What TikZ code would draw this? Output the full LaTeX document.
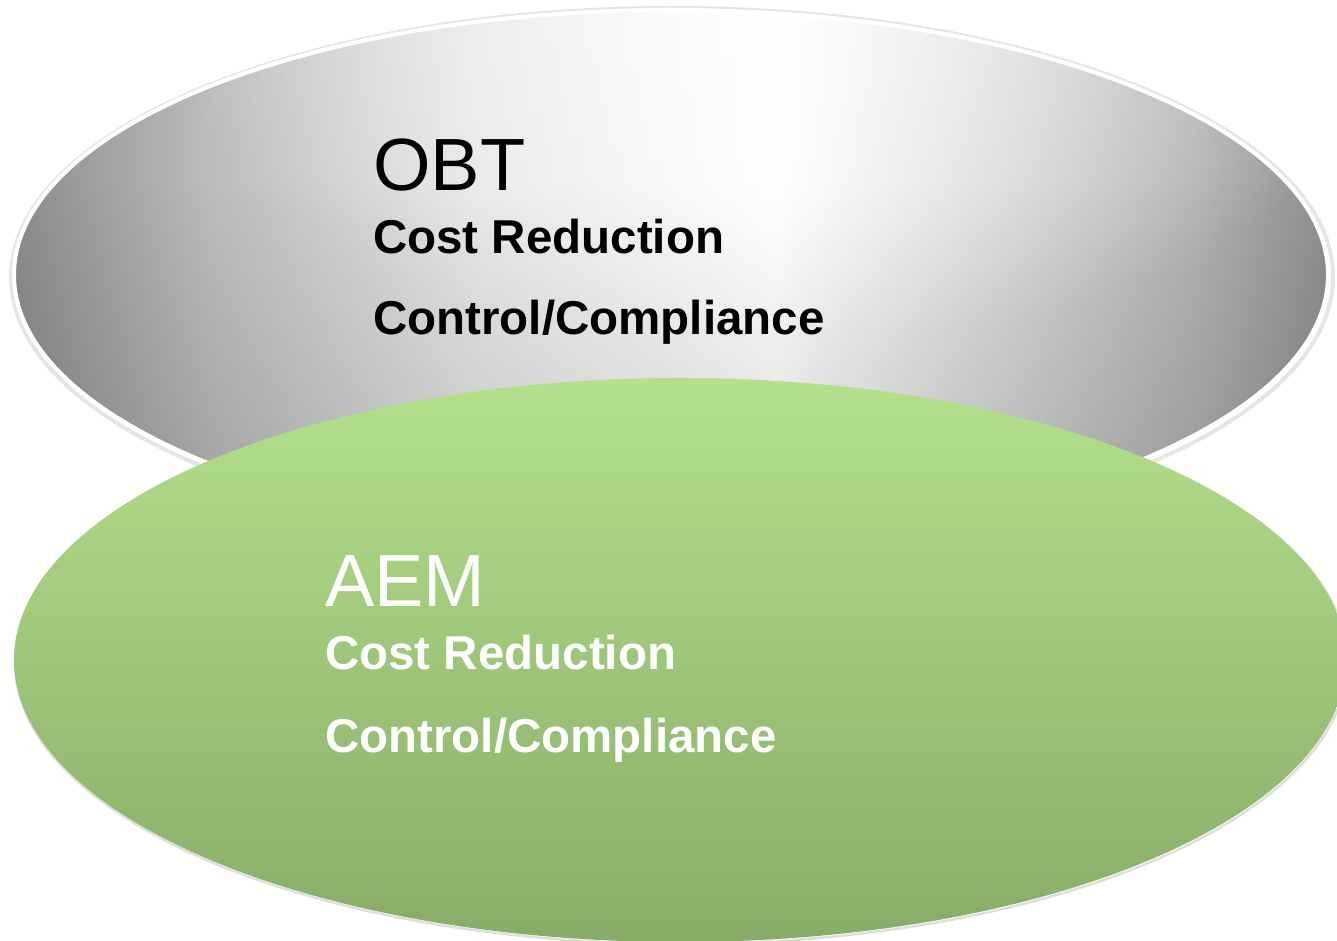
\documentclass[tikz,border=0pt]{standalone}
\usepackage{fontspec}
\setmainfont{Liberation Sans}
\usetikzlibrary{fadings}
\definecolor{edgegray}{RGB}{140,140,140}
\definecolor{grayA}{RGB}{188,188,188}
\definecolor{grayB}{RGB}{230,230,230}
\definecolor{grayC}{RGB}{215,215,215}
\definecolor{grayD}{RGB}{178,178,178}
\definecolor{grayE}{RGB}{143,143,143}
\definecolor{greentop}{RGB}{180,224,140}
\definecolor{greenbot}{RGB}{136,172,104}
\definecolor{shadowgray}{RGB}{205,205,205}
\pgfdeclarehorizontalshading{obtshade}{100bp}{color(0bp)=(edgegray); color(25bp)=(edgegray); color(32.5bp)=(grayA); color(42.5bp)=(grayB); color(54bp)=(white); color(62.5bp)=(grayC); color(70bp)=(grayD); color(75bp)=(grayE); color(100bp)=(grayE)}
\tikzfading[name=glowfade, inner color=transparent!0, outer color=transparent!100]
\tikzset{
  titletext/.style={anchor=base west, inner sep=0pt, font=\fontsize{74}{74}\selectfont},
  itemtext/.style={anchor=base west, inner sep=0pt, font=\fontsize{47.5}{47.5}\selectfont\bfseries},
}
\begin{document}
\begin{tikzpicture}[x=1pt,y=1pt]
\useasboundingbox (0,0) rectangle (1337,941);
\clip (0,0) rectangle (1337,941);
\fill[white] (0,0) rectangle (1337,941);
% gray ellipse (OBT)
\draw[shadowgray, line width=4pt, opacity=0.5] (672,664) ellipse [x radius=661, y radius=269];
\shade[shading=obtshade] (671,666) ellipse [x radius=657, y radius=265];
\begin{scope}
  \clip (671,666) ellipse [x radius=657, y radius=265];
  \fill[black, opacity=0.15, path fading=north] (0,395) rectangle (1337,760);
  \fill[white, opacity=0.6, path fading=glowfade] (780,935) ellipse [x radius=620, y radius=340];
\end{scope}
\draw[white, line width=4pt] (671,666) ellipse [x radius=657, y radius=265];
\node[titletext] (obt) at (373,750) {OBT};
\node[itemtext] (obt1) at (373,687) {Cost Reduction};
\node[itemtext] (obt2) at (373,606) {Control/Compliance};
% green ellipse (AEM)
\draw[black!25, line width=2.5pt, opacity=0.5] (681,279) ellipse [x radius=666, y radius=282];
\shade[top color=greentop, bottom color=greenbot]
  (680,281) ellipse [x radius=666, y radius=282];
\node[titletext, text=white] (aem) at (325,334) {AEM};
\node[itemtext, text=white] (aem1) at (325,271) {Cost Reduction};
\node[itemtext, text=white] (aem2) at (325,188) {Control/Compliance};
\end{tikzpicture}
\end{document}
